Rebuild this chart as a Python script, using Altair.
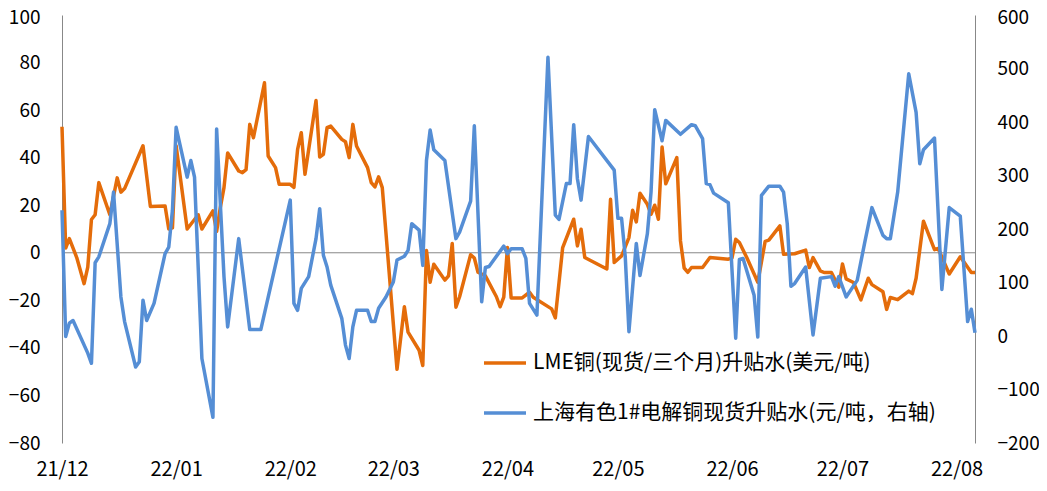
import altair as alt
import pandas as pd

FONT = "Noto Sans CJK SC"

series_names = ["LME铜(现货/三个月)升贴水(美元/吨)", "上海有色1#电解铜现货升贴水(元/吨，右轴)"]
series_colors = ["#E46C0A", "#558ED5"]

lme_dates = [
    "2021-12-01", "2021-12-02", "2021-12-03", "2021-12-05", "2021-12-07", "2021-12-08", "2021-12-09",
    "2021-12-10", "2021-12-11", "2021-12-14", "2021-12-16", "2021-12-17", "2021-12-18", "2021-12-23",
    "2021-12-25", "2021-12-29", "2021-12-30", "2021-12-31",
    "2022-01-01", "2022-01-04", "2022-01-06", "2022-01-07", "2022-01-08", "2022-01-11", "2022-01-12",
    "2022-01-13", "2022-01-14", "2022-01-15", "2022-01-18", "2022-01-19", "2022-01-20", "2022-01-21",
    "2022-01-22", "2022-01-25", "2022-01-26", "2022-01-28", "2022-01-29",
    "2022-02-01", "2022-02-02", "2022-02-03", "2022-02-04", "2022-02-05", "2022-02-08", "2022-02-09",
    "2022-02-10", "2022-02-11", "2022-02-12", "2022-02-15", "2022-02-16", "2022-02-17", "2022-02-18",
    "2022-02-19", "2022-02-22", "2022-02-23", "2022-02-24", "2022-02-25", "2022-02-26",
    "2022-03-02", "2022-03-04", "2022-03-05", "2022-03-08", "2022-03-09", "2022-03-10", "2022-03-11",
    "2022-03-12", "2022-03-15", "2022-03-16", "2022-03-17", "2022-03-18", "2022-03-19", "2022-03-22",
    "2022-03-23", "2022-03-24", "2022-03-26", "2022-03-29", "2022-03-30", "2022-03-31",
    "2022-04-01", "2022-04-02", "2022-04-05", "2022-04-07", "2022-04-08", "2022-04-13", "2022-04-14",
    "2022-04-16", "2022-04-19", "2022-04-20", "2022-04-21", "2022-04-22", "2022-04-28", "2022-04-29",
    "2022-04-30",
    "2022-05-02", "2022-05-04", "2022-05-05", "2022-05-06", "2022-05-07", "2022-05-09", "2022-05-10",
    "2022-05-11", "2022-05-12", "2022-05-13", "2022-05-14", "2022-05-17", "2022-05-18", "2022-05-19",
    "2022-05-20", "2022-05-21", "2022-05-24", "2022-05-26", "2022-05-31",
    "2022-06-01", "2022-06-02", "2022-06-03", "2022-06-05", "2022-06-08", "2022-06-10", "2022-06-11",
    "2022-06-14", "2022-06-15", "2022-06-18", "2022-06-21", "2022-06-22", "2022-06-23", "2022-06-25",
    "2022-06-26", "2022-06-28", "2022-06-30",
    "2022-07-01", "2022-07-02", "2022-07-04", "2022-07-06", "2022-07-08", "2022-07-09", "2022-07-12",
    "2022-07-13", "2022-07-14", "2022-07-16", "2022-07-19", "2022-07-20", "2022-07-21", "2022-07-23",
    "2022-07-26", "2022-07-27", "2022-07-30",
    "2022-08-02", "2022-08-05", "2022-08-06",
]
lme_values = [
    53, 2, 6, -2, -13, -6, 14, 16, 29.5, 16, 31.5, 25.5, 27, 45, 19.5, 19.7, 10, 10.5,
    45, 10, 14, 16, 10, 17.6, 9, 19, 27.4, 42, 34.4, 33.7, 35, 54, 48.4, 71.5, 40.7, 35.8, 28.8,
    28.8, 27.5, 43.5, 50.5, 33, 64, 40.3, 41.4, 52.6, 53.3, 47.7, 46.7, 40, 54, 44.9, 35.8, 29.5,
    27.7, 31.9, 27.4,
    -49, -22.7, -33.4, -41, -47.4, 1, -12.4, -4.8, -11.5, -9.7, 3.9, -22.9, -18.5, -0.8, -2.2, -8.2,
    -9.7, -18.5, -22.7, -18.7,
    2.2, -19, -19, -16.6, -18.7, -23.6, -27.4, 2.2, 14.1, 2.9, 9.9, -2, -6.8, 22.5, -4.1,
    -1.3, 6.4, 17.9, 13, 25, 20.4, 16.2, 20, 14.1, 44.5, 29, 40, 5, -6.4, -8.2, -6.2, -6.2, -2, -2.7,
    -2.2, 5.7, 4.3, -2, -12.4, 4.8, 5.3, 11.3, -0.6, -0.4, 1.1, -6.2, -2, -7.6, -8.3, -8.3, -14.5,
    -4.7, -11, -12.5, -19.8, -10.7, -13.4, -16.4, -23.8, -18.8, -19.7, -16.1, -17.2, -10.7, 13.3,
    1.3, 1.8, -8.9,
    -1.7, -8.3, -8.3,
]

sh_dates = [
    "2021-12-01", "2021-12-02", "2021-12-03", "2021-12-04", "2021-12-08", "2021-12-09", "2021-12-10",
    "2021-12-11", "2021-12-14", "2021-12-15", "2021-12-17", "2021-12-18", "2021-12-21", "2021-12-22",
    "2021-12-23", "2021-12-24", "2021-12-26", "2021-12-29", "2021-12-30", "2021-12-31",
    "2022-01-01", "2022-01-04", "2022-01-05", "2022-01-06", "2022-01-08", "2022-01-11", "2022-01-12",
    "2022-01-14", "2022-01-15", "2022-01-18", "2022-01-21", "2022-01-24",
    "2022-02-01", "2022-02-02", "2022-02-03", "2022-02-04", "2022-02-06", "2022-02-08", "2022-02-09",
    "2022-02-10", "2022-02-11", "2022-02-12", "2022-02-15", "2022-02-16", "2022-02-17", "2022-02-18",
    "2022-02-19", "2022-02-22", "2022-02-23", "2022-02-24", "2022-02-25", "2022-02-27",
    "2022-03-01", "2022-03-02", "2022-03-04", "2022-03-05", "2022-03-06", "2022-03-08", "2022-03-09",
    "2022-03-10", "2022-03-11", "2022-03-12", "2022-03-15", "2022-03-18", "2022-03-19", "2022-03-22",
    "2022-03-23", "2022-03-25", "2022-03-26", "2022-03-27", "2022-03-31",
    "2022-04-01", "2022-04-02", "2022-04-05", "2022-04-06", "2022-04-07", "2022-04-09", "2022-04-12",
    "2022-04-14", "2022-04-15", "2022-04-17", "2022-04-18", "2022-04-19", "2022-04-20", "2022-04-21",
    "2022-04-23", "2022-04-30",
    "2022-05-01", "2022-05-02", "2022-05-03", "2022-05-04", "2022-05-06", "2022-05-07", "2022-05-09",
    "2022-05-10", "2022-05-11", "2022-05-13", "2022-05-14", "2022-05-18", "2022-05-21", "2022-05-22",
    "2022-05-24", "2022-05-25", "2022-05-26", "2022-05-27", "2022-05-31",
    "2022-06-02", "2022-06-03", "2022-06-04", "2022-06-07", "2022-06-08", "2022-06-09", "2022-06-11",
    "2022-06-14", "2022-06-15", "2022-06-16", "2022-06-17", "2022-06-18", "2022-06-21", "2022-06-23",
    "2022-06-25", "2022-06-28", "2022-06-29", "2022-06-30",
    "2022-07-02", "2022-07-05", "2022-07-07", "2022-07-09", "2022-07-12", "2022-07-13", "2022-07-14",
    "2022-07-16", "2022-07-19", "2022-07-21", "2022-07-22", "2022-07-23", "2022-07-26", "2022-07-28",
    "2022-07-30",
    "2022-08-02", "2022-08-04", "2022-08-05", "2022-08-06",
]
sh_values = [
    235, -1, 24, 29, -32, -51, 137, 148, 210, 269, 73, 27, -58, -48, 67, 29, 61, 154, 166, 235,
    390, 297, 328, 297, -42, -152, 387, 111, 17, 182, 12, 12,
    254, 61, 48, 89, 111, 182, 238, 151, 129, 95, 33, -17, -42, 17, 48, 48, 27, 27, 52, 73,
    101, 142, 149, 160, 210, 198, 132, 328, 385, 348, 328, 182, 194, 252, 393, 64, 128, 130, 168,
    154, 163, 163, 145, 61, 39, 521, 226, 218, 285, 285, 395, 294, 254, 373, 310,
    220, 220, 148, 8, 173, 113, 191, 269, 423, 365, 403, 377, 395, 393, 369, 285, 283, 267, 249,
    -4, 143, 145, 76, -2, 263, 280, 280, 269, 210, 93, 98, 129, 2, 108, 111, 93, 111,
    73, 104, 173, 240, 188, 182, 182, 269, 490, 418, 322, 348, 370, 87, 240,
    224, 27, 50, 6,
]

tick_years = [2021, 2022, 2022, 2022, 2022, 2022, 2022, 2022, 2022]
tick_months = [12, 1, 2, 3, 4, 5, 6, 7, 8]
left_ticks = [-80, -60, -40, -20, 0, 20, 40, 60, 80, 100]
right_ticks = [-200, -100, 0, 100, 200, 300, 400, 500, 600]

lme = pd.DataFrame({"date": lme_dates, "value": lme_values, "series": series_names[0]})
sh = pd.DataFrame({"date": sh_dates, "value": sh_values, "series": series_names[1]})
zero = pd.DataFrame({"y": [0]})

x_domain = [alt.DateTime(year=2021, month=12, date=1, utc=True),
            alt.DateTime(year=2022, month=8, date=6, utc=True)]
x_values = [alt.DateTime(year=y, month=m, date=1, utc=True) for y, m in zip(tick_years, tick_months)]

x_enc = alt.X(
    "date:T",
    scale=alt.Scale(type="utc", domain=x_domain),
    axis=alt.Axis(values=x_values, labelExpr="utcFormat(datum.value, '%y/%m')",
                  ticks=False, domain=False, grid=False, labelFontSize=20, labelFont=FONT,
                  labelColor="#000000", labelPadding=16, labelOverlap=False, labelFlush=False,
                  labelAlign="center", title=None),
)

color_enc = alt.Color(
    "series:N",
    scale=alt.Scale(domain=series_names, range=series_colors),
    legend=alt.Legend(orient="none", legendX=420, legendY=325, title=None, direction="vertical",
                      symbolType="stroke", symbolSize=1764, symbolStrokeWidth=3.5,
                      labelFontSize=21, labelFont=FONT, labelColor="#000000", labelOffset=5,
                      labelLimit=0, rowPadding=17),
)

rule = alt.Chart(zero).mark_rule(color="#888888", strokeWidth=1).encode(
    y=alt.Y("y:Q", scale=alt.Scale(domain=[-80, 100]), axis=None)
)

orange = alt.Chart(lme).mark_line(strokeWidth=3.5, strokeJoin="round").encode(
    x=x_enc,
    y=alt.Y("value:Q", scale=alt.Scale(domain=[-80, 100], nice=False),
            axis=alt.Axis(orient="left", values=left_ticks, ticks=False, grid=False,
                          domainColor="#888888", domainWidth=1, labelFontSize=19, labelFont=FONT,
                          labelColor="#000000", labelPadding=22, title=None,
                          labelOffset={"condition": {"test": "datum.value == 100", "value": 2},
                                       "value": 0})),
    color=color_enc,
)

blue = alt.Chart(sh).mark_line(strokeWidth=3.5, strokeJoin="round").encode(
    x=x_enc,
    y=alt.Y("value:Q", scale=alt.Scale(domain=[-200, 600], nice=False),
            axis=alt.Axis(orient="right", values=right_ticks, ticks=False, grid=False,
                          domainColor="#888888", domainWidth=1, labelFontSize=19, labelFont=FONT,
                          labelColor="#000000", labelPadding=22, title=None,
                          labelOffset={"condition": {"test": "datum.value == 600", "value": 2},
                                       "value": 0})),
    color=color_enc,
)

chart = alt.layer(rule, orange, blue).resolve_scale(y="independent").properties(
    width=913, height=428,
    autosize=alt.AutoSizeParams(type="none"),
    padding={"left": 54, "top": 7, "right": 64, "bottom": 38},
).configure_view(stroke=None)

chart.save("out.html", embed_options={"renderer": "svg", "actions": False})
